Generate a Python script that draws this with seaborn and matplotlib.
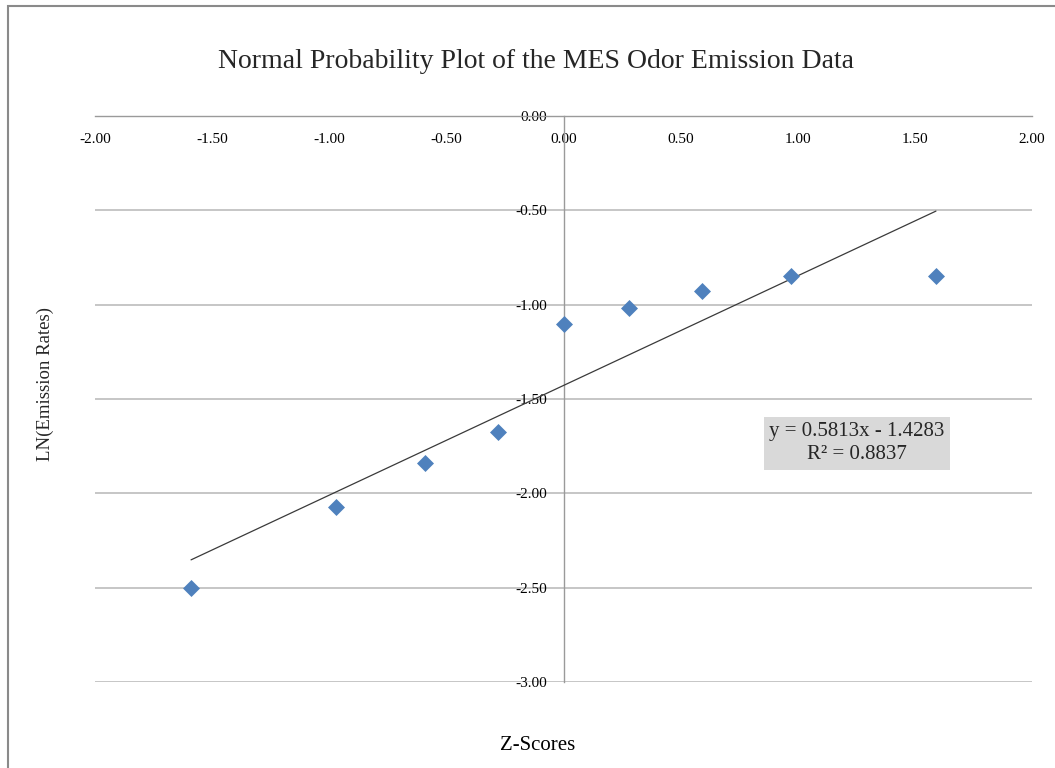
import numpy as np
import pandas as pd
import seaborn as sns
import matplotlib
matplotlib.use("Agg")
import matplotlib.pyplot as plt
from matplotlib.patches import Rectangle
from matplotlib.ticker import FormatStrFormatter

# ---- data ----
z_scores = [-1.59, -0.97, -0.59, -0.28, 0.00, 0.28, 0.59, 0.97, 1.59]
ln_rates = [-2.50, -2.07, -1.84, -1.675, -1.10, -1.02, -0.93, -0.85, -0.85]
trend_slope = 0.5813
trend_intercept = -1.4283
r_squared = 0.8837
x_ticks = [-2.0, -1.5, -1.0, -0.5, 0.0, 0.5, 1.0, 1.5, 2.0]
y_ticks = [-3.0, -2.5, -2.0, -1.5, -1.0, -0.5, 0.0]
title = "Normal Probability Plot of the MES Odor Emission Data"
x_label = "Z-Scores"
y_label = "LN(Emission Rates)"

sns.set_theme(style="white")
plt.rcParams["font.family"] = ["Liberation Serif", "DejaVu Serif"]

W, H = 1055, 768
fig = plt.figure(figsize=(W / 100, H / 100), dpi=100)
fig.patch.set_facecolor("white")

# outer chart frame
fig.add_artist(Rectangle((8 / W, -0.2), 1.2, 1.2 - 5.5 / H, transform=fig.transFigure,
                         fill=False, edgecolor="#8a8a8a", linewidth=1.5))

ax = fig.add_axes([95 / W, 1 - 682 / H, 937 / W, 566 / H])
ax.set_facecolor("white")

df = pd.DataFrame({"z": z_scores, "ln": ln_rates})
sns.scatterplot(data=df, x="z", y="ln", marker="D", s=75, color="#4f81bd",
                edgecolor="#4f81bd", linewidth=0, ax=ax, zorder=4, clip_on=False)

tx = np.array([min(z_scores), max(z_scores)])
trend = pd.DataFrame({"z": tx, "fit": trend_slope * tx + trend_intercept})
sns.lineplot(data=trend, x="z", y="fit", color="#3a3a3a", linewidth=0.9, ax=ax, zorder=3)

ax.set_xlim(x_ticks[0], x_ticks[-1])
ax.set_ylim(y_ticks[0], y_ticks[-1])
ax.set_xticks(x_ticks)
ax.set_yticks(y_ticks)
ax.xaxis.set_major_formatter(FormatStrFormatter("%.2f"))
ax.yaxis.set_major_formatter(FormatStrFormatter("%.2f"))

for s in ["top", "right"]:
    ax.spines[s].set_visible(False)
ax.spines["bottom"].set_position(("data", 0))
ax.spines["left"].set_position(("data", 0))
for s in ["bottom", "left"]:
    ax.spines[s].set_color("#9a9a9a")
    ax.spines[s].set_linewidth(1.0)
    ax.spines[s].set_zorder(2)

ax.tick_params(axis="x", direction="in", length=4, width=1, color="#9a9a9a",
               pad=12, labelsize=11, labelcolor="black")
ax.tick_params(axis="y", length=0, pad=12, labelsize=11, labelcolor="black")

ax.yaxis.grid(True, color="#c2c2c2", linewidth=1.3, zorder=1)
ax.xaxis.grid(False)
ax.set_axisbelow(True)

ax.set_xlabel(x_label, fontsize=15, color="black")
ax.set_ylabel("")
ax.xaxis.set_label_coords((538 - 95) / 937, (682 - 745) / 566)
ax.xaxis.label.set_va("center")

fig.text(45 / W, 1 - 384 / H, y_label, rotation=90, fontsize=13.5, ha="center", va="center")
fig.text(536.5 / W, 1 - 61 / H, title, fontsize=20, ha="center", va="center")

ax.text(1.253, -1.735, f"y = {trend_slope:.4f}x - {abs(trend_intercept):.4f}\nR² = {r_squared:.4f}",
        ha="center", va="center", multialignment="center", fontsize=15, linespacing=1.3,
        bbox=dict(boxstyle="square,pad=0.25", facecolor="#d9d9d9", edgecolor="none"), zorder=5)

fig.savefig("out.png", dpi=100)
